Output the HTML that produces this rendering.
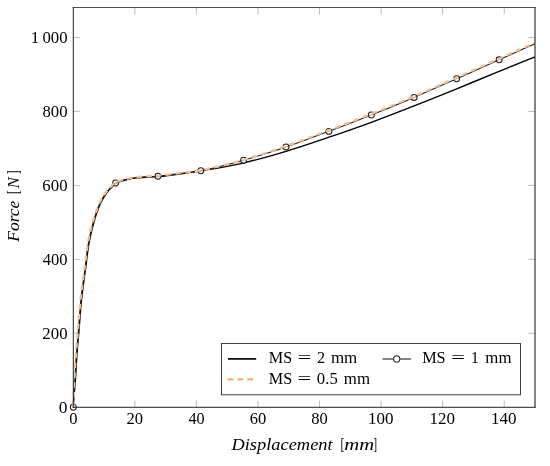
<!DOCTYPE html>
<html><head><meta charset="utf-8"><style>
html,body{margin:0;padding:0;background:#fff;}
svg{display:block;will-change:transform;}
text{font-family:"Liberation Serif",serif;font-size:16.4px;fill:#000;}
</style></head><body>
<svg width="550" height="466" viewBox="0 0 550 466">
<g stroke="#a8a8a8" stroke-width="0.75" fill="none"><line x1="134.86" y1="407.30" x2="134.86" y2="400.50"/><line x1="134.86" y1="7.50" x2="134.86" y2="14.30"/><line x1="196.42" y1="407.30" x2="196.42" y2="400.50"/><line x1="196.42" y1="7.50" x2="196.42" y2="14.30"/><line x1="257.98" y1="407.30" x2="257.98" y2="400.50"/><line x1="257.98" y1="7.50" x2="257.98" y2="14.30"/><line x1="319.54" y1="407.30" x2="319.54" y2="400.50"/><line x1="319.54" y1="7.50" x2="319.54" y2="14.30"/><line x1="381.10" y1="407.30" x2="381.10" y2="400.50"/><line x1="381.10" y1="7.50" x2="381.10" y2="14.30"/><line x1="442.66" y1="407.30" x2="442.66" y2="400.50"/><line x1="442.66" y1="7.50" x2="442.66" y2="14.30"/><line x1="504.22" y1="407.30" x2="504.22" y2="400.50"/><line x1="504.22" y1="7.50" x2="504.22" y2="14.30"/><line x1="73.30" y1="333.26" x2="80.10" y2="333.26"/><line x1="535.00" y1="333.26" x2="528.20" y2="333.26"/><line x1="73.30" y1="259.32" x2="80.10" y2="259.32"/><line x1="535.00" y1="259.32" x2="528.20" y2="259.32"/><line x1="73.30" y1="185.38" x2="80.10" y2="185.38"/><line x1="535.00" y1="185.38" x2="528.20" y2="185.38"/><line x1="73.30" y1="111.44" x2="80.10" y2="111.44"/><line x1="535.00" y1="111.44" x2="528.20" y2="111.44"/><line x1="73.30" y1="37.50" x2="80.10" y2="37.50"/><line x1="535.00" y1="37.50" x2="528.20" y2="37.50"/></g>
<path d="M73.30,407.20 C73.43,404.37 73.46,401.98 73.70,398.70 C74.03,394.16 74.82,388.62 75.30,382.50 C75.92,374.54 76.26,363.94 76.90,355.00 C77.51,346.46 78.27,338.71 79.00,330.00 C79.80,320.46 80.44,309.99 81.50,300.00 C82.57,289.99 84.09,279.83 85.40,270.00 C86.66,260.50 87.63,250.46 89.20,242.00 C90.52,234.88 92.13,228.49 93.80,222.50 C95.26,217.28 96.92,212.00 98.50,208.00 C99.66,205.05 100.73,202.87 102.00,200.50 C103.21,198.25 104.51,196.08 105.90,194.10 C107.22,192.23 108.76,190.39 110.10,188.90 C111.21,187.67 112.25,186.71 113.30,185.70 C114.28,184.75 114.84,183.80 116.20,183.00 C118.35,181.74 122.32,180.83 125.60,180.00 C129.07,179.11 132.93,178.35 136.50,177.90 C139.89,177.47 143.05,177.51 146.50,177.30 C150.20,177.08 153.56,177.00 158.00,176.60 C164.16,176.05 172.76,175.00 180.00,174.00 C187.09,173.02 194.71,171.67 201.00,170.70 C206.14,169.91 209.55,169.54 215.00,168.60 C222.74,167.26 232.72,165.52 243.00,163.10 C255.85,160.08 271.72,155.60 286.00,151.30 C300.39,146.97 314.75,142.04 329.00,137.20 C343.18,132.38 357.19,127.49 371.30,122.30 C385.56,117.06 399.87,111.48 414.10,105.90 C428.34,100.31 442.53,94.55 456.70,88.80 C470.86,83.05 485.55,76.94 499.10,71.40 C511.56,66.31 523.03,61.67 535.00,56.80" fill="none" stroke="#000" stroke-width="1.4" stroke-linejoin="round"/>
<path d="M73.30,407.20 C73.43,404.37 73.52,401.99 73.70,398.70 C73.95,394.16 74.33,388.61 74.70,382.50 C75.18,374.54 75.66,363.94 76.30,355.00 C76.91,346.46 77.67,338.71 78.40,330.00 C79.20,320.46 79.84,309.99 80.90,300.00 C81.97,289.99 83.49,279.83 84.80,270.00 C86.06,260.50 87.03,250.46 88.60,242.00 C89.92,234.88 91.53,228.49 93.20,222.50 C94.66,217.28 96.32,212.00 97.90,208.00 C99.06,205.05 100.13,202.87 101.40,200.50 C102.61,198.25 103.91,196.08 105.30,194.10 C106.62,192.23 108.16,190.39 109.50,188.90 C110.61,187.67 111.65,186.71 112.70,185.70 C113.68,184.75 114.23,183.82 115.60,183.00 C117.84,181.66 122.16,180.51 125.60,179.60 C129.12,178.67 132.93,177.95 136.50,177.50 C139.89,177.07 143.05,177.11 146.50,176.90 C150.20,176.68 153.56,176.60 158.00,176.20 C164.16,175.65 172.76,174.53 180.00,173.60 C187.09,172.69 192.82,172.27 201.00,170.70 C212.76,168.44 229.48,164.14 243.60,160.20 C257.81,156.24 271.87,151.77 286.00,147.00 C300.34,142.15 314.75,136.65 329.00,131.30 C343.18,125.98 357.19,120.62 371.30,115.00 C385.56,109.32 399.89,103.44 414.10,97.40 C428.35,91.34 442.53,84.97 456.70,78.70 C470.86,72.44 485.55,65.84 499.10,59.80 C511.56,54.24 523.03,49.13 535.00,43.80" fill="none" stroke="#222" stroke-width="1.1" stroke-linejoin="round"/>
<g fill="#fff" fill-opacity="0.6" stroke="#222" stroke-width="1.05"><circle cx="73.30" cy="407.20" r="2.95"/><circle cx="115.60" cy="183.00" r="2.95"/><circle cx="158.00" cy="176.20" r="2.95"/><circle cx="200.80" cy="170.70" r="2.95"/><circle cx="243.60" cy="160.20" r="2.95"/><circle cx="286.00" cy="147.00" r="2.95"/><circle cx="328.90" cy="131.40" r="2.95"/><circle cx="371.30" cy="115.00" r="2.95"/><circle cx="414.10" cy="97.40" r="2.95"/><circle cx="456.60" cy="78.70" r="2.95"/><circle cx="499.10" cy="59.80" r="2.95"/></g>
<path d="M73.30,407.20 C73.43,404.37 73.56,402.01 73.70,398.70 C73.89,394.06 74.01,388.26 74.30,382.00 C74.68,373.97 75.26,363.44 75.90,354.50 C76.51,345.96 77.27,338.21 78.00,329.50 C78.80,319.96 79.44,309.49 80.50,299.50 C81.57,289.49 83.09,279.33 84.40,269.50 C85.66,260.00 86.63,249.96 88.20,241.50 C89.52,234.38 91.13,227.99 92.80,222.00 C94.26,216.78 95.92,211.50 97.50,207.50 C98.66,204.55 99.73,202.37 101.00,200.00 C102.21,197.75 103.51,195.58 104.90,193.60 C106.22,191.73 107.76,189.89 109.10,188.40 C110.21,187.17 111.25,186.21 112.30,185.20 C113.28,184.25 113.81,183.32 115.20,182.50 C117.51,181.14 122.06,180.01 125.60,179.10 C129.16,178.18 132.93,177.45 136.50,177.00 C139.89,176.57 143.05,176.61 146.50,176.40 C150.20,176.18 153.56,176.10 158.00,175.70 C164.16,175.15 172.76,174.03 180.00,173.10 C187.09,172.19 192.82,171.74 201.00,170.20 C212.76,167.99 229.50,163.99 243.60,160.00 C257.83,155.97 271.86,151.03 286.00,146.10 C300.33,141.10 314.74,135.58 329.00,130.20 C343.18,124.85 357.19,119.52 371.30,113.90 C385.56,108.22 399.89,102.34 414.10,96.30 C428.35,90.24 442.53,83.87 456.70,77.60 C470.86,71.34 485.55,64.74 499.10,58.70 C511.56,53.14 523.03,48.03 535.00,42.70" fill="none" stroke="#F4BE8E" stroke-width="2.3" stroke-dasharray="5.5 4.3" stroke-linejoin="round"/>
<g stroke="#222" fill="none" stroke-linecap="square">
<line x1="73.3" y1="7.5" x2="535.0" y2="7.5" stroke-width="0.8"/>
<line x1="73.3" y1="407.3" x2="535.0" y2="407.3" stroke-width="1.0"/>
<line x1="73.3" y1="7.5" x2="73.3" y2="407.3" stroke-width="1.0"/>
<line x1="535.0" y1="7.5" x2="535.0" y2="407.3" stroke-width="1.1"/>
</g>
<rect x="221.55" y="343.55" width="299.0" height="51.25" fill="#fff" stroke="#2a2a2a" stroke-width="0.9"/>
<line x1="227.9" y1="358.9" x2="256.2" y2="358.9" stroke="#111" stroke-width="1.8"/>
<line x1="382.5" y1="359.0" x2="411.2" y2="359.0" stroke="#222" stroke-width="1.1"/>
<circle cx="396.7" cy="358.9" r="3.1" fill="#fff" stroke="#222" stroke-width="1.05"/>
<line x1="227.6" y1="379.4" x2="253.3" y2="379.4" stroke="#F2B078" stroke-width="2.1" stroke-dasharray="5.6 4.3"/>
<text x="58.84" y="412.60" textLength="8.73" lengthAdjust="spacingAndGlyphs">0</text><text x="42.36" y="338.66" textLength="25.18" lengthAdjust="spacingAndGlyphs">200</text><text x="42.78" y="264.72" textLength="24.75" lengthAdjust="spacingAndGlyphs">400</text><text x="42.38" y="190.78" textLength="25.16" lengthAdjust="spacingAndGlyphs">600</text><text x="42.46" y="116.84" textLength="25.07" lengthAdjust="spacingAndGlyphs">800</text><text x="30.70" y="42.90" textLength="8.52" lengthAdjust="spacingAndGlyphs">1</text><text x="42.46" y="42.90" textLength="25.07" lengthAdjust="spacingAndGlyphs">000</text><text x="69.17" y="423.90" textLength="8.26" lengthAdjust="spacingAndGlyphs">0</text><text x="126.53" y="423.90" textLength="16.56" lengthAdjust="spacingAndGlyphs">20</text><text x="188.50" y="423.90" textLength="16.13" lengthAdjust="spacingAndGlyphs">40</text><text x="249.67" y="423.90" textLength="16.54" lengthAdjust="spacingAndGlyphs">60</text><text x="311.31" y="423.90" textLength="16.45" lengthAdjust="spacingAndGlyphs">80</text><text x="367.90" y="423.90" textLength="25.55" lengthAdjust="spacingAndGlyphs">100</text><text x="429.46" y="423.90" textLength="25.55" lengthAdjust="spacingAndGlyphs">120</text><text x="491.02" y="423.90" textLength="25.55" lengthAdjust="spacingAndGlyphs">140</text><text x="231.41" y="450.20" textLength="101.22" lengthAdjust="spacingAndGlyphs" font-style="italic">Displacement</text><text x="340.43" y="450.30" textLength="3.89" lengthAdjust="spacingAndGlyphs" fill="#444">[</text><text x="344.25" y="450.20" textLength="29.92" lengthAdjust="spacingAndGlyphs" font-style="italic">mm</text><text x="373.61" y="450.30" textLength="3.59" lengthAdjust="spacingAndGlyphs" fill="#444">]</text><text x="268.83" y="363.30" textLength="23.37" lengthAdjust="spacingAndGlyphs">MS</text><text x="297.58" y="363.30" textLength="13.82" lengthAdjust="spacingAndGlyphs">=</text><text x="317.09" y="363.30" textLength="8.11" lengthAdjust="spacingAndGlyphs">2</text><text x="330.94" y="363.30" textLength="26.32" lengthAdjust="spacingAndGlyphs">mm</text><text x="422.13" y="363.30" textLength="23.58" lengthAdjust="spacingAndGlyphs">MS</text><text x="451.19" y="363.30" textLength="13.70" lengthAdjust="spacingAndGlyphs">=</text><text x="470.93" y="363.30" textLength="7.81" lengthAdjust="spacingAndGlyphs">1</text><text x="485.35" y="363.30" textLength="26.11" lengthAdjust="spacingAndGlyphs">mm</text><text x="268.83" y="384.00" textLength="23.37" lengthAdjust="spacingAndGlyphs">MS</text><text x="297.58" y="384.00" textLength="13.82" lengthAdjust="spacingAndGlyphs">=</text><text x="316.86" y="384.00" textLength="20.89" lengthAdjust="spacingAndGlyphs">0.5</text><text x="343.85" y="384.00" textLength="26.22" lengthAdjust="spacingAndGlyphs">mm</text>
<g transform="translate(19.3,242.0) rotate(-90)"><text x="0.29" y="0" textLength="41.09" lengthAdjust="spacingAndGlyphs" font-style="italic">Force</text><text x="48.10" y="0" textLength="3.59" lengthAdjust="spacingAndGlyphs" fill="#444">[</text><text x="53.62" y="0" textLength="11.29" lengthAdjust="spacingAndGlyphs" font-style="italic">N</text><text x="67.93" y="0" textLength="3.44" lengthAdjust="spacingAndGlyphs" fill="#444">]</text></g>
</svg>
</body></html>
